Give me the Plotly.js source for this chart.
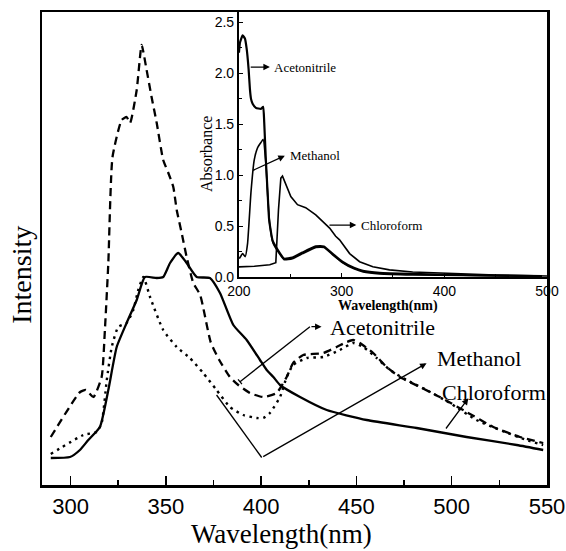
<!DOCTYPE html>
<html>
<head>
<meta charset="utf-8">
<script src="https://cdn.plot.ly/plotly-3.0.1.min.js"></script>
<style>html,body{margin:0;padding:0;background:#fff;}#chart{width:566px;height:551px;}</style>
</head>
<body>
<div id="chart"></div>
<script>
// ---- Main emission spectra (arbitrary intensity units) ----
const acnWavelength = [289.6,305,308,312,316.3,318,319.8,322,326.8,329.4,331.2,334.7,337.3,339.9,342.5,345.2,348.6,351.3,353.9,355.7,358.3,360.9,364.4,368,373.5,378,383.6,388,394.1,401,408.1,413.4,416.8,422.1,432.6,439.6,444.9,448.3,451.8,458.8,465.8,472.8,483.3,493.8,507.8,521.8,535.8,548];
const acnIntensity  = [48,93,95,88,108,155,222,328,365,368,362,395,440,415,388,362,325,312,298,275,252,228,202,190,143,125,108,100,92,88,92,108,122,130,132,138,143,145,142,132,118,108,98,88,73,58,48,42];

const meohWavelength = [289.6,306.7,313.7,316.3,319,321.6,325,329.4,332.9,335.5,338.2,341.7,348.6,355.7,362.6,369.6,376.6,383.6,390.6,397.6,401.1,404.6,409.9,413.4,416.8,423.9,432.6,441.3,448.3,453.6,460.6,467.6,476.3,486.8,499,513,525.3,539.3,548];
const meohIntensity  = [31,50,53,62,105,138,158,162,175,195,208,188,155,138,127,112,95,78,70,67,67,72,88,108,120,127,128,135,142,138,127,115,105,95,82,65,55,45,40];

const chcl3Wavelength = [289.6,299.7,304.9,309.3,315.4,319.8,324.2,329.4,334.7,339,345.2,348.6,352.2,356.5,360.9,366.2,373.1,378.4,385.4,392.4,399.4,402.9,406.4,409.9,420.4,434.4,455.4,481.6,507.8,534.1,548];
const chcl3Intensity  = [27,28,35,45,58,95,138,162,185,208,207,208,222,232,222,208,207,192,160,145,125,115,108,100,88,75,65,57,48,40,35];

// ---- Inset absorption spectra ----
const absAcnWavelength = [200,201,203.6,205.8,207.5,209.4,210.7,211.7,213.3,216.5,221.4,223.6,224.6,226.2,227.9,229.4,232.7,237.6,244,252.1,261.8,274.8,282.8,291,300.7,311.9,320.7,336.9,369.2,417.8,495];
const absAcn          = [2.2,2.30,2.37,2.34,2.24,2.04,1.84,1.75,1.70,1.66,1.65,1.67,1.52,1.15,0.83,0.56,0.36,0.27,0.18,0.19,0.24,0.30,0.30,0.23,0.15,0.09,0.06,0.04,0.03,0.02,0.01];

const absMeohWavelength = [200.3,203.6,206.1,208.4,211.7,214.9,218.2,221.4,223.6,226.2,228,230,233,238,244,252,262,275,283,291,301,312,321,337,369,418,495];
const absMeoh           = [0.18,0.23,0.20,0.33,0.83,1.15,1.27,1.32,1.35,1.12,0.80,0.52,0.34,0.25,0.17,0.18,0.23,0.29,0.29,0.22,0.14,0.08,0.05,0.03,0.02,0.015,0.005];

const absChcl3Wavelength = [200,215,230,235.9,238.5,240.8,242.4,245.6,250.5,257,265,274.8,284.5,288.3,294.2,298,307.8,317.5,330.4,346.6,369.2,401.7,450.2,500];
const absChcl3           = [0.10,0.105,0.12,0.14,0.66,0.97,0.99,0.91,0.79,0.71,0.68,0.61,0.51,0.48,0.40,0.365,0.23,0.15,0.10,0.07,0.05,0.035,0.02,0.01];

const mainTickVals = [300,350,400,450,500,550];
const insetXTickVals = [200,300,400,500];
const insetYTickVals = [0,0.5,1.0,1.5,2.0,2.5];
const insetYTickText = ['0.0','0.5','1.0','1.5','2.0','2.5'];

const SERIF = 'Liberation Serif, Times New Roman, serif';
const SANS = 'Liberation Sans, Arial, sans-serif';

const traces = [
  {x: acnWavelength, y: acnIntensity, name: 'Acetonitrile', type: 'scatter', mode: 'lines',
   line: {color: '#000', width: 2.3, dash: '8px,5px', shape: 'spline', smoothing: 0.5}, xaxis: 'x', yaxis: 'y'},
  {x: meohWavelength, y: meohIntensity, name: 'Methanol', type: 'scatter', mode: 'lines',
   line: {color: '#000', width: 2.4, dash: '2.5px,4.5px', shape: 'spline', smoothing: 0.5}, xaxis: 'x', yaxis: 'y'},
  {x: chcl3Wavelength, y: chcl3Intensity, name: 'Chloroform', type: 'scatter', mode: 'lines',
   line: {color: '#000', width: 2.3, shape: 'spline', smoothing: 0.5}, xaxis: 'x', yaxis: 'y'},
  {x: absAcnWavelength, y: absAcn, name: 'Acetonitrile (abs)', type: 'scatter', mode: 'lines',
   line: {color: '#000', width: 2.2, shape: 'spline', smoothing: 0.4}, xaxis: 'x2', yaxis: 'y2'},
  {x: absMeohWavelength, y: absMeoh, name: 'Methanol (abs)', type: 'scatter', mode: 'lines',
   line: {color: '#000', width: 1.6, shape: 'spline', smoothing: 0.4}, xaxis: 'x2', yaxis: 'y2'},
  {x: absChcl3Wavelength, y: absChcl3, name: 'Chloroform (abs)', type: 'scatter', mode: 'lines',
   line: {color: '#000', width: 1.6, shape: 'linear'}, xaxis: 'x2', yaxis: 'y2'}
];

function arrow(xref, yref, x, y, ax, ay, head) {
  return {xref: xref, yref: yref, axref: xref, ayref: yref, x: x, y: y, ax: ax, ay: ay,
    text: '', showarrow: true, arrowhead: head, arrowsize: 1, arrowwidth: 1.3, arrowcolor: '#000', standoff: 0};
}
function label(xref, yref, x, y, text, size) {
  return {xref: xref, yref: yref, x: x, y: y, text: text, showarrow: false, xanchor: 'left', yanchor: 'middle',
    font: {family: SERIF, size: size, color: '#000'}};
}

const annotations = [
  // main labels
  label('x', 'y', 435, 158, 'Acetonitrile', 22),
  label('x', 'y', 491.2, 127, 'Methanol', 22),
  label('x', 'y', 493.8, 93, 'Chloroform', 22),
  arrow('x', 'y', 431.7, 158.3, 425.6, 158.3, 2),
  arrow('x', 'y', 486.8, 121.7, 400.3, 27.5, 2),
  arrow('x', 'y', 508.7, 86.7, 496.4, 55, 2),
  // inset labels
  label('x2', 'y2', 231.7, 2.06, 'Acetonitrile', 13),
  label('x2', 'y2', 247.3, 1.19, 'Methanol', 13),
  label('x2', 'y2', 316.8, 0.51, 'Chloroform', 13),
  arrow('x2', 'y2', 230.1, 2.06, 210, 2.06, 2),
  arrow('x2', 'y2', 244.7, 1.19, 212.3, 1.04, 2),
  arrow('x2', 'y2', 314.3, 0.51, 286.7, 0.51, 2),
  // axis titles
  {xref: 'paper', yref: 'paper', x: 0.475, y: -0.104, text: 'Wavelength(nm)', showarrow: false,
   xanchor: 'center', yanchor: 'middle', font: {family: SERIF, size: 27, color: '#000'}},
  {xref: 'paper', yref: 'paper', x: -0.04, y: 0.444, text: 'Intensity', showarrow: false, textangle: -90,
   xanchor: 'center', yanchor: 'middle', font: {family: SERIF, size: 28, color: '#000'}},
  {xref: 'paper', yref: 'paper', x: 0.685, y: 0.378, text: '<b>Wavelength(nm)</b>', showarrow: false,
   xanchor: 'center', yanchor: 'middle', font: {family: SERIF, size: 14, color: '#000'}},
  {xref: 'paper', yref: 'paper', x: 0.327, y: 0.7, text: 'Absorbance', showarrow: false, textangle: -90,
   xanchor: 'center', yanchor: 'middle', font: {family: SERIF, size: 16, color: '#000'}}
];

const shapes = [
  {type: 'line', xref: 'x', yref: 'y', x0: 388.9, y0: 103.3, x1: 425.6, y1: 158.3, line: {color: '#000', width: 1.3}},
  {type: 'line', xref: 'x', yref: 'y', x0: 387.9, y0: 105.7, x1: 389.9, y1: 100.9, line: {color: '#000', width: 1.3}},
  {type: 'line', xref: 'x', yref: 'y', x0: 376.6, y0: 90, x1: 400.3, y1: 27.5, line: {color: '#000', width: 1.3}}
];

const layout = {
  width: 566, height: 551,
  margin: {l: 42, r: 19, t: 12, b: 66},
  paper_bgcolor: '#fff', plot_bgcolor: '#fff',
  showlegend: false,
  font: {family: SANS, color: '#000'},
  xaxis: {domain: [0, 1], range: [285, 550], tickvals: mainTickVals, ticks: 'inside', ticklen: 9, tickwidth: 1.5,
    tickcolor: '#000', showline: true, linewidth: 2.5, linecolor: '#000', mirror: true, showgrid: false, zeroline: false,
    tickfont: {family: SANS, size: 22, color: '#000'}, ticklabelstandoff: 0,
    minor: {dtick: 25, tick0: 0, ticks: 'inside', ticklen: 5, tickwidth: 1.5, tickcolor: '#000', showgrid: false}},
  yaxis: {domain: [0, 1], range: [0, 473], showticklabels: false, ticks: '', showline: true, linewidth: 2.5,
    linecolor: '#000', mirror: true, showgrid: false, zeroline: false},
  xaxis2: {domain: [0.39, 1], anchor: 'y2', range: [200, 500], tickvals: insetXTickVals, ticks: 'inside', ticklen: 4,
    tickwidth: 1, tickcolor: '#000', showline: true, linewidth: 2, linecolor: '#000', mirror: true, showgrid: false,
    zeroline: false, tickfont: {family: SANS, size: 14, color: '#000'}, ticklabelstandoff: 0,
    minor: {dtick: 50, tick0: 0, ticks: 'inside', ticklen: 3, tickwidth: 1, tickcolor: '#000', showgrid: false}},
  yaxis2: {domain: [0.4397, 1], anchor: 'x2', range: [0, 2.6], tickvals: insetYTickVals, ticktext: insetYTickText,
    ticks: 'inside', ticklen: 4, tickwidth: 1, tickcolor: '#000', showline: true, linewidth: 2, linecolor: '#000',
    mirror: true, showgrid: false, zeroline: false, tickfont: {family: SANS, size: 14, color: '#000'},
    minor: {dtick: 0.25, tick0: 0, ticks: 'inside', ticklen: 3, tickwidth: 1, tickcolor: '#000', showgrid: false}},
  annotations: annotations,
  shapes: shapes
};

Plotly.newPlot('chart', traces, layout, {displayModeBar: false, staticPlot: true});
</script>
</body>
</html>
